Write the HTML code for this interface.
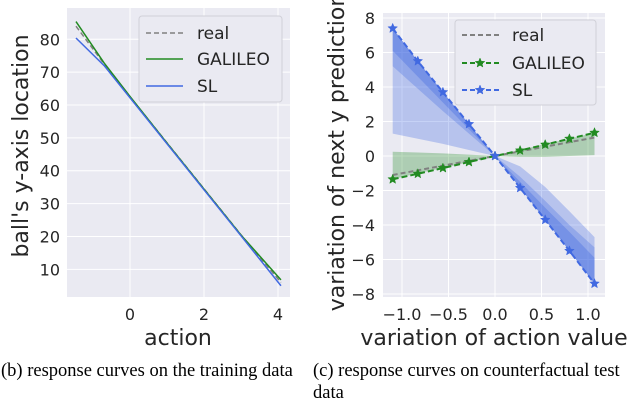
<!DOCTYPE html>
<html><head><meta charset="utf-8">
<style>
body{margin:0;background:#fff;width:640px;height:402px;overflow:hidden}
svg text{font-family:"DejaVu Sans","Liberation Sans",sans-serif;fill:#262626}
.cap{font-family:"Liberation Serif",serif;font-size:18.5px;fill:#000}
</style></head><body>
<svg id="s" width="640" height="402" viewBox="0 0 640 402">
<text class="cap" x="1" y="376">(b) response curves on the training data</text>
<text class="cap" x="313" y="376">(c) response curves on counterfactual test</text>
<text class="cap" x="313" y="398">data</text>
</svg>
<script>
// Left chart data
const lxTicks=[0,2,4];
const lyTicks=[10,20,30,40,50,60,70,80];
const lineX=[-1.46,-0.7,0,1,2,3,4.08];
const realY=[84,72.5,62.5,48.5,34.5,20.5,6];
const galileoY=[85.4,72.8,62.6,48.4,34.4,20.4,6.8];
const slY=[80.4,72,62.2,48.2,34.2,20.2,5];
// Right chart data
const rxTicks=[-1.0,-0.5,0.0,0.5,1.0];
const ryTicks=[-8,-6,-4,-2,0,2,4,6,8];
const px=[-1.1,-0.83,-0.56,-0.28,0,0.27,0.54,0.8,1.07];
const rReal=[-1.1,-0.83,-0.56,-0.28,0,0.27,0.54,0.8,1.07];
const rGalileo=[-1.35,-1.03,-0.7,-0.35,0,0.32,0.66,1.0,1.35];
const rSL=[7.4,5.5,3.7,1.85,0,-1.85,-3.7,-5.5,-7.4];
const slBandLight=[1.3,1.0,0.7,0.35,0,-0.6,-1.8,-3.2,-4.7];
const slBandMid=[5.2,3.9,2.6,1.3,0,-1.2,-2.6,-4.0,-5.3];
const slBandDark=[6.1,4.6,3.1,1.55,0,-1.5,-3.0,-4.4,-5.9];
const gBandTop=[0.25,0.2,0.15,0.08,0,0.35,0.7,1.0,1.35];
const gBandBot=[-1.35,-1.0,-0.7,-0.35,0,-0.05,-0.05,0,0.05];

const NS="http://www.w3.org/2000/svg";
const svg=document.getElementById('s');
function el(t,a,p){const e=document.createElementNS(NS,t);for(const k in a)e.setAttribute(k,a[k]);(p||svg).appendChild(e);return e;}

// ---------- Left
const L={x0:67,x1:290,y0:8,y1:297};
const lx=v=>130+v*37, ly=v=>39.3+(80-v)*3.286;
let r=el('rect',{x:L.x0,y:L.y0,width:L.x1-L.x0,height:L.y1-L.y0,fill:'#eaeaf2'});

lxTicks.forEach(v=>{let g=el('line',{x1:lx(v),x2:lx(v),y1:L.y0,y2:L.y1,stroke:'#fff','stroke-width':1});
 
 let t=el('text',{x:lx(v),y:320,'font-size':16,'text-anchor':'middle'});t.textContent=v;
 });
lyTicks.forEach(v=>{let g=el('line',{x1:L.x0,x2:L.x1,y1:ly(v),y2:ly(v),stroke:'#fff','stroke-width':1});
 
 let t=el('text',{x:60,y:ly(v)+6,'font-size':16,'text-anchor':'end'});t.textContent=v;
 });
function pl(xs,ys,fx,fy){return xs.map((x,i)=>fx(x)+','+fy(ys[i])).join(' ');}
let p=el('polyline',{points:pl(lineX,realY,lx,ly),fill:'none',stroke:'#808080','stroke-width':1.5,'stroke-dasharray':'5,3'});

p=el('polyline',{points:pl(lineX,galileoY,lx,ly),fill:'none',stroke:'#228b22','stroke-width':1.5});

p=el('polyline',{points:pl(lineX,slY,lx,ly),fill:'none',stroke:'#4169e1','stroke-width':1.5});

let t=el('text',{x:178,y:345,'font-size':22,'text-anchor':'middle'});t.textContent='action';

t=el('text',{x:0,y:0,'font-size':22,'text-anchor':'middle',transform:'translate(28,146) rotate(-90)'});t.textContent="ball's y-axis location";

// left legend
let lg=el('rect',{x:139,y:16,width:143,height:86,rx:3,fill:'#eaeaf2',stroke:'#d0d0d8','stroke-width':1});

[['real','#808080','5,3',33],['GALILEO','#228b22','',59],['SL','#4169e1','',86]].forEach(([n,c,d,y])=>{
 let l=el('line',{x1:146,x2:183,y1:y,y2:y,stroke:c,'stroke-width':1.5,'stroke-dasharray':d||'none'});
 
 let tt=el('text',{x:197,y:y+6,'font-size':17});tt.textContent=n;
 });

// ---------- Right
const R={x0:383,x1:605,y0:13,y1:297};
const rx=v=>495+v*93, ry=v=>156-v*17.25;
r=el('rect',{x:R.x0,y:R.y0,width:R.x1-R.x0,height:R.y1-R.y0,fill:'#eaeaf2'});

rxTicks.forEach(v=>{let g=el('line',{x1:rx(v),x2:rx(v),y1:R.y0,y2:R.y1,stroke:'#fff','stroke-width':1});
 
 let tt=el('text',{x:rx(v),y:320,'font-size':16,'text-anchor':'middle'});tt.textContent=(v<0?'\u2212':'')+Math.abs(v).toFixed(1);
 });
ryTicks.forEach(v=>{let g=el('line',{x1:R.x0,x2:R.x1,y1:ry(v),y2:ry(v),stroke:'#fff','stroke-width':1});
 
 let tt=el('text',{x:375,y:ry(v)+6,'font-size':16,'text-anchor':'end'});tt.textContent=(v<0?'\u2212':'')+Math.abs(v);
 });
function band(lo,hi,fill,name){
 const pts=px.map((x,i)=>rx(x)+','+ry(hi[i])).concat(px.slice().reverse().map((x,j)=>{const i=px.length-1-j;return rx(x)+','+ry(lo[i]);}));
 let b=el('polygon',{points:pts.join(' '),fill:fill});
 }
band(gBandBot,gBandTop,'rgba(34,139,34,0.3)','galileo-band');
band(slBandLight,rSL,'rgba(65,105,225,0.3)','sl-band-light');
band(slBandMid,rSL,'rgba(65,105,225,0.3)','sl-band-mid');
band(slBandDark,rSL,'rgba(65,105,225,0.35)','sl-band-dark');
p=el('polyline',{points:pl(px,rReal,rx,ry),fill:'none',stroke:'#808080','stroke-width':2,'stroke-dasharray':'5,3'});

function star(cx,cy,rr,c){const a=[];for(let k=0;k<10;k++){const ang=-Math.PI/2+k*Math.PI/5,q=k%2?rr*0.45:rr;a.push((cx+q*Math.cos(ang)).toFixed(1)+','+(cy+q*Math.sin(ang)).toFixed(1));}
 return el('polygon',{points:a.join(' '),fill:c,stroke:c,'stroke-width':0.5});}
[[rGalileo,'#228b22','galileo'],[rSL,'#4169e1','sl']].forEach(([ys,c,n])=>{
 let l=el('polyline',{points:pl(px,ys,rx,ry),fill:'none',stroke:c,'stroke-width':2,'stroke-dasharray':'6,3'});
 
 px.forEach((x,i)=>{let s=star(rx(x),ry(ys[i]),5,c);});});
t=el('text',{x:494,y:345,'font-size':22,'text-anchor':'middle'});t.textContent='variation of action value';

t=el('text',{x:0,y:0,'font-size':22,'text-anchor':'middle',transform:'translate(344,152) rotate(-90)'});t.textContent='variation of next y prediction';

lg=el('rect',{x:455,y:20,width:141,height:85,rx:3,fill:'#eaeaf2',stroke:'#d0d0d8','stroke-width':1});

[['real','#808080',false,35],['GALILEO','#228b22',true,63],['SL','#4169e1',true,90]].forEach(([n,c,m,y])=>{
 let l=el('line',{x1:462,x2:499,y1:y,y2:y,stroke:c,'stroke-width':2,'stroke-dasharray':'5,3'});
 
 if(m){let s=star(480,y,5,c);}
 let tt=el('text',{x:512,y:y+6,'font-size':17});tt.textContent=n;
 });
</script>
</body></html>
